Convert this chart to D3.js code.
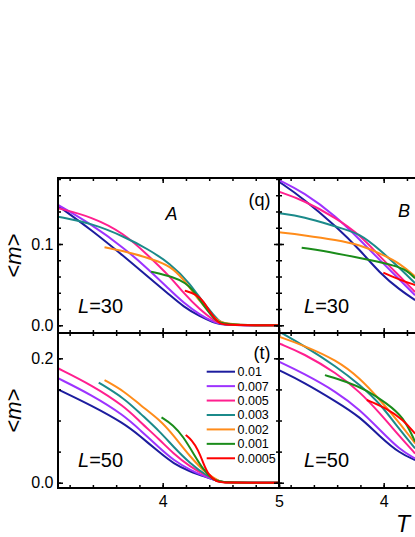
<!DOCTYPE html>
<html lang="en">
  <head>
    <meta charset="UTF-8" />
    <title>&lt;m&gt; vs T</title>
    <script src="https://cdn.jsdelivr.net/npm/d3@7"></script>
    <style>
      body {
        margin: 0;
        padding: 0;
        background: #fff;
      }
      svg {
        display: block;
        font-family: Arial, "Liberation Sans", sans-serif;
      }
    </style>
  </head>
  <body>
    <svg id="chart"></svg>
    <script>
      // cooling rates (legend)
      const rates = ["0.01", "0.007", "0.005", "0.003", "0.002", "0.001", "0.0005"];
      const colors = ["#1c1c9e", "#9d33ff", "#ff1f8f", "#1b8a8a", "#ff8c1a", "#1a8c1a", "#ff0000"];

      const xMinor = [3.2, 3.4, 3.6, 3.8, 4.0, 4.2, 4.4, 4.6, 4.8, 5.0];
      const xMajor = [4, 5];
      const yMinor30 = [0, 0.02, 0.04, 0.06, 0.08, 0.1, 0.12, 0.14, 0.16, 0.18];
      const yMajor30 = [0, 0.1];
      const yMinor50 = [0, 0.05, 0.1, 0.15, 0.2];
      const yMajor50 = [0, 0.2];

      // [T, <m>] per rate, same order as rates
      const curvesA30 = [
        [[3.1, 0.147], [3.39, 0.117], [3.67, 0.0844], [3.87, 0.06], [4.063, 0.037], [4.177, 0.023], [4.321, 0.0106], [4.44, 0.0035], [4.51, 0], [5.0, 0]],
        [[3.1, 0.148], [3.39, 0.124], [3.67, 0.0947], [3.87, 0.07], [4.063, 0.0434], [4.177, 0.028], [4.321, 0.0127], [4.44, 0.004], [4.51, 0], [5.0, 0]],
        [[3.1, 0.144], [3.39, 0.1336], [3.67, 0.113], [3.87, 0.0865], [4.063, 0.06], [4.177, 0.04], [4.321, 0.019], [4.44, 0.006], [4.51, 0], [5.0, 0]],
        [[3.1, 0.1336], [3.39, 0.1255], [3.67, 0.109], [3.87, 0.094], [4.063, 0.0763], [4.235, 0.0517], [4.35, 0.027], [4.465, 0.0086], [4.51, 0], [5.0, 0]],
        [[3.5, 0.096], [3.75, 0.0886], [3.98, 0.078], [4.09, 0.07], [4.2, 0.053], [4.32, 0.029], [4.435, 0.011], [4.51, 0], [5.0, 0]],
        [[3.9, 0.066], [4.09, 0.0595], [4.2, 0.052], [4.26, 0.043], [4.32, 0.031], [4.38, 0.019], [4.44, 0.008], [4.51, 0], [5.0, 0]],
        [[4.19, 0.0426], [4.29, 0.038], [4.35, 0.03], [4.41, 0.015], [4.48, 0.003], [4.52, 0], [5.0, 0]],
      ];
      const curvesA50 = [
        [[3.1, 0.15], [3.39, 0.124], [3.67, 0.095], [3.805, 0.075], [3.977, 0.048], [4.091, 0.031], [4.235, 0.0177], [4.379, 0.0087], [4.49, 0.0016], [4.52, 0], [5.0, 0]],
        [[3.1, 0.168], [3.39, 0.141], [3.67, 0.108], [3.805, 0.0847], [3.977, 0.0553], [4.091, 0.0365], [4.235, 0.0204], [4.379, 0.0087], [4.49, 0.0016], [4.52, 0], [5.0, 0]],
        [[3.1, 0.184], [3.39, 0.157], [3.67, 0.123], [3.805, 0.098], [3.977, 0.0686], [4.091, 0.047], [4.235, 0.0257], [4.379, 0.011], [4.49, 0.002], [4.52, 0], [5.0, 0]],
        [[3.45, 0.161], [3.67, 0.1357], [3.805, 0.1116], [3.977, 0.082], [4.091, 0.058], [4.235, 0.031], [4.379, 0.011], [4.49, 0.002], [4.52, 0], [5.0, 0]],
        [[3.5, 0.165], [3.67, 0.147], [3.805, 0.125], [3.977, 0.1008], [4.091, 0.0767], [4.235, 0.0418], [4.379, 0.014], [4.49, 0.002], [4.52, 0], [5.0, 0]],
        [[3.99, 0.105], [4.091, 0.0928], [4.177, 0.074], [4.264, 0.047], [4.35, 0.0204], [4.435, 0.0043], [4.51, 0], [5.0, 0]],
        [[4.198, 0.0767], [4.25, 0.0686], [4.306, 0.0526], [4.35, 0.031], [4.392, 0.0124], [4.465, 0.0016], [4.51, 0], [5.0, 0]],
      ];
      const curvesB30 = [
        [[3.1, 0.1766], [3.309, 0.156], [3.596, 0.121], [3.796, 0.0926], [3.968, 0.064], [4.14, 0.0434], [4.27, 0.031]],
        [[3.1, 0.1787], [3.309, 0.164], [3.596, 0.1336], [3.796, 0.105], [3.968, 0.08], [4.14, 0.0557], [4.27, 0.037]],
        [[3.1, 0.1643], [3.309, 0.154], [3.596, 0.1316], [3.796, 0.111], [3.968, 0.0844], [4.14, 0.06], [4.27, 0.041]],
        [[3.1, 0.1378], [3.309, 0.1336], [3.596, 0.121], [3.796, 0.113], [3.968, 0.0926], [4.14, 0.07], [4.27, 0.0517]],
        [[3.1, 0.1144], [3.309, 0.111], [3.596, 0.105], [3.796, 0.0988], [3.968, 0.0886], [4.14, 0.0763], [4.27, 0.06]],
        [[3.295, 0.0955], [3.596, 0.0886], [3.882, 0.0803], [4.083, 0.074], [4.198, 0.068], [4.27, 0.0578]],
        [[3.997, 0.0647], [4.14, 0.0557], [4.27, 0.0496]],
      ];
      const curvesB50 = [
        [[3.1, 0.181], [3.309, 0.162], [3.596, 0.13], [3.796, 0.106], [3.968, 0.074], [4.14, 0.047], [4.27, 0.0365]],
        [[3.1, 0.1945], [3.309, 0.176], [3.596, 0.146], [3.796, 0.117], [3.968, 0.0847], [4.14, 0.0526], [4.27, 0.039]],
        [[3.1, 0.224], [3.309, 0.208], [3.596, 0.176], [3.796, 0.146], [3.968, 0.1116], [4.14, 0.074], [4.27, 0.047]],
        [[3.1, 0.243], [3.309, 0.221], [3.596, 0.1865], [3.796, 0.157], [3.968, 0.1276], [4.14, 0.0847], [4.27, 0.0553]],
        [[3.1, 0.2347], [3.309, 0.221], [3.596, 0.197], [3.796, 0.168], [3.968, 0.133], [4.14, 0.0955], [4.27, 0.0633]],
        [[3.495, 0.173], [3.682, 0.1624], [3.854, 0.149], [4.026, 0.1276], [4.169, 0.106], [4.27, 0.066]],
        [[3.855, 0.133], [4.026, 0.1196], [4.169, 0.1008], [4.27, 0.079]],
      ];

      const width = 415;
      const height = 537;
      const svg = d3.select("#chart").attr("width", width).attr("height", height);

      const panelW = 221;
      const rows = [
        { y0: 178, y1: 333, dom: [-0.0095, 0.1812], minor: yMinor30, major: yMajor30, L: "30" },
        { y0: 333, y1: 488, dom: [-0.0085, 0.2407], minor: yMinor50, major: yMajor50, L: "50" },
      ];
      const panels = [
        { col: 0, row: 0, curves: curvesA30 },
        { col: 1, row: 0, curves: curvesB30 },
        { col: 0, row: 1, curves: curvesA50 },
        { col: 1, row: 1, curves: curvesB50 },
      ];

      function addTicks(g, axis, values, len, fmt, pad) {
        g.call(
          axis
            .tickValues(values)
            .tickSizeInner(-len)
            .tickSizeOuter(0)
            .tickPadding(pad || 3)
            .tickFormat(fmt || "")
        );
        g.select(".domain").remove();
        g.selectAll(".tick line").attr("stroke", "#000").attr("stroke-width", 1.5);
        g.selectAll("text")
          .attr("font-family", "Arial, 'Liberation Sans', sans-serif")
          .attr("font-size", 16)
          .attr("fill", "#000");
      }

      panels.forEach((p, i) => {
        const r = rows[p.row];
        const x0 = 58 + p.col * panelW;
        const x1 = x0 + panelW;
        const x = d3.scaleLinear().domain([3.1, 5.0]).range([x0, x1]);
        const y = d3.scaleLinear().domain(r.dom).range([r.y1, r.y0]);

        svg
          .append("clipPath")
          .attr("id", "clip" + i)
          .append("rect")
          .attr("x", x0)
          .attr("y", r.y0)
          .attr("width", panelW)
          .attr("height", r.y1 - r.y0);

        const line = d3
          .line()
          .x((d) => x(d[0]))
          .y((d) => y(d[1]))
          .curve(d3.curveBasis);

        svg
          .append("g")
          .attr("clip-path", `url(#clip${i})`)
          .selectAll("path")
          .data(p.curves)
          .enter()
          .append("path")
          .attr("d", line)
          .attr("fill", "none")
          .attr("stroke", (d, k) => colors[k])
          .attr("stroke-width", 2)
          .attr("stroke-linejoin", "round");

        // ticks on all four sides, pointing inward
        const bottom = p.row == 1;
        const left = p.col == 0;
        // only label ticks that land inside the window
        const xFmt = (d) => (bottom && x(d) < width - 6 ? d3.format("d")(d) : "");
        addTicks(svg.append("g").attr("transform", `translate(0,${r.y1})`), d3.axisBottom(x), xMinor, 3);
        addTicks(svg.append("g").attr("transform", `translate(0,${r.y1})`), d3.axisBottom(x), xMajor, 5, xFmt, 8);
        addTicks(svg.append("g").attr("transform", `translate(0,${r.y0})`), d3.axisTop(x), xMinor, 3);
        addTicks(svg.append("g").attr("transform", `translate(0,${r.y0})`), d3.axisTop(x), xMajor, 5);
        addTicks(svg.append("g").attr("transform", `translate(${x0},0)`), d3.axisLeft(y), r.minor, 3);
        addTicks(
          svg.append("g").attr("transform", `translate(${x0},0)`),
          d3.axisLeft(y),
          r.major,
          5,
          left ? d3.format(".1f") : "",
          4.5
        );
        addTicks(svg.append("g").attr("transform", `translate(${x1},0)`), d3.axisRight(y), r.minor, 3);
        addTicks(svg.append("g").attr("transform", `translate(${x1},0)`), d3.axisRight(y), r.major, 5);
        svg.selectAll(".tick text").filter(function () { return this.textContent == ""; }).remove();

        svg
          .append("rect")
          .attr("x", x0)
          .attr("y", r.y0)
          .attr("width", panelW)
          .attr("height", r.y1 - r.y0)
          .attr("fill", "none")
          .attr("stroke", "#000")
          .attr("stroke-width", 2);

        // L=.. label
        const lt = svg
          .append("text")
          .attr("x", left ? 78 : 304)
          .attr("y", bottom ? 467 : 312.5)
          .attr("font-size", 20);
        lt.append("tspan").attr("font-style", "italic").text("L");
        lt.append("tspan").text("=" + r.L);
      });

      // panel letters
      svg.append("text").attr("x", 171.5).attr("y", 220).attr("text-anchor", "middle")
        .attr("font-size", 18).attr("font-style", "italic").text("A");
      svg.append("text").attr("x", 404).attr("y", 217).attr("text-anchor", "middle")
        .attr("font-size", 18).attr("font-style", "italic").text("B");
      svg.append("text").attr("x", 270.5).attr("y", 206).attr("text-anchor", "end")
        .attr("font-size", 18).text("(q)");
      svg.append("text").attr("x", 270.5).attr("y", 358.5).attr("text-anchor", "end")
        .attr("font-size", 18).text("(t)");

      // y titles
      rows.forEach((r) => {
        const t = svg
          .append("text")
          .attr("transform", `translate(21,${(r.y0 + r.y1) / 2}) rotate(-90)`)
          .attr("text-anchor", "middle")
          .attr("font-size", 22);
        t.append("tspan").text("<");
        t.append("tspan").attr("font-style", "italic").text("m");
        t.append("tspan").text(">");
      });

      // x title
      svg.append("text").attr("x", 403).attr("y", 531.5).attr("text-anchor", "middle")
        .attr("font-size", 23).attr("font-style", "italic").text("T");

      // legend
      const leg = svg
        .append("g")
        .selectAll("g")
        .data(rates)
        .enter()
        .append("g")
        .attr("transform", (d, i) => `translate(0,${371.7 + i * 14.43})`);
      leg
        .append("line")
        .attr("x1", 206.7)
        .attr("x2", 235)
        .attr("stroke", (d, i) => colors[i])
        .attr("stroke-width", 2);
      leg
        .append("text")
        .attr("x", 237.5)
        .attr("dy", "0.36em")
        .attr("font-size", 12.5)
        .text((d) => d);
    </script>
  </body>
</html>
